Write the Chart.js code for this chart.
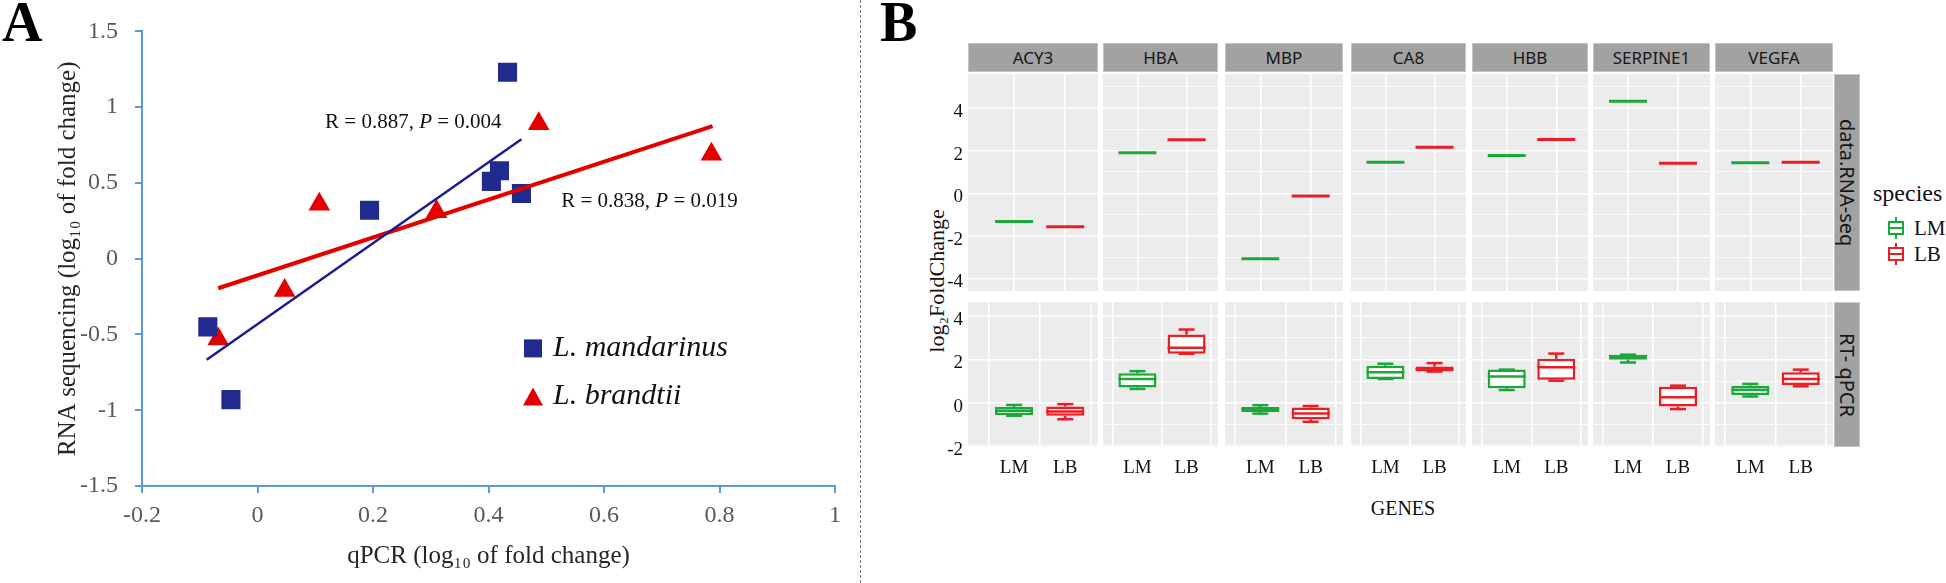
<!DOCTYPE html>
<html>
<head>
<meta charset="utf-8">
<script src="https://cdn.jsdelivr.net/npm/chart.js@4.4.1/dist/chart.umd.min.js"></script>
<style>
body { margin: 0; width: 1946px; height: 583px; position: relative; overflow: hidden; background: #fff;
       font-family: 'Liberation Serif', 'Times New Roman', serif; }
canvas { position: absolute; }
.big { position: absolute; font-weight: bold; font-size: 56px; line-height: 56px; color: #000; }
.strip { position: absolute; box-sizing: border-box; background: #a2a2a2; border: 1px solid #c4c4c4;
         font-family: 'Noto Sans', sans-serif; font-size: 17px; color: #161616;
         display: flex; align-items: center; justify-content: center; }
.vstrip { writing-mode: vertical-rl; font-size: 20px; }
.txt { position: absolute; color: #111; white-space: nowrap; }
</style>
</head>
<body>
<div class="big" style="left:2px;top:-6px">A</div>
<div class="big" style="left:880px;top:-6px">B</div>
<div style="position:absolute;left:860px;top:0;height:583px;border-left:1.5px dashed #777"></div>
<canvas id="chartA" width="860" height="583" style="left:0;top:0"></canvas>

<div class="txt" style="left:787px;top:268px;width:300px;text-align:center;font-size:22px;line-height:26px;transform:rotate(-90deg)">log₂FoldChange</div>
<div class="txt" style="left:1303px;top:496px;width:200px;text-align:center;font-size:20px;line-height:24px">GENES</div>
<div class="txt" style="left:1873px;top:179px;font-size:24px;line-height:28px">species</div>
<svg style="position:absolute;left:1886px;top:217px" width="20" height="22">
  <path d="M10 0V5M10 17V22M3 5H17V17H3ZM3 11H17" fill="#fff" stroke="#1aa83a" stroke-width="2"/>
</svg>
<svg style="position:absolute;left:1886px;top:243px" width="20" height="22">
  <path d="M10 0V5M10 17V22M3 5H17V17H3ZM3 11H17" fill="#fff" stroke="#ec1c24" stroke-width="2"/>
</svg>
<div class="txt" style="left:1914px;top:216px;font-size:21px;line-height:24px">LM</div>
<div class="txt" style="left:1914px;top:242px;font-size:21px;line-height:24px">LB</div>

<script>
// ---- panel A: qPCR vs RNA-seq ----
const xTicksA = [-0.2, 0, 0.2, 0.4, 0.6, 0.8, 1];
const yTicksA = [-1.5, -1, -0.5, 0, 0.5, 1, 1.5];
const mandarinusX = [-0.086, -0.046, 0.194, 0.405, 0.419, 0.433, 0.457];
const mandarinusY = [-0.45, -0.93, 0.32, 0.51, 0.58, 1.23, 0.43];
const brandtiiX = [-0.068, 0.047, 0.107, 0.31, 0.487, 0.786];
const brandtiiY = [-0.53, -0.21, 0.36, 0.31, 0.89, 0.69];
const fitMandarinusX = [-0.088, 0.457];
const fitMandarinusY = [-0.667, 0.788];
const fitBrandtiiX = [-0.068, 0.788];
const fitBrandtiiY = [-0.195, 0.875];
const corrR = ['0.887', '0.838'];
const corrP = ['0.004', '0.019'];

// ---- panel B: log2 fold change per gene ----
const genes = ['ACY3', 'HBA', 'MBP', 'CA8', 'HBB', 'SERPINE1', 'VEGFA'];
const species = ['LM', 'LB'];
const rowNames = ['data.RNA-seq', 'RT- qPCR'];
const rnaSeqLM = [-1.33, 1.90, -3.07, 1.46, 1.77, 4.32, 1.43];
const rnaSeqLB = [-1.57, 2.51, -0.13, 2.16, 2.53, 1.41, 1.46];
// [min, q1, median, q3, max]
const qpcrLM = [
    [-0.60, -0.56, -0.37, -0.19, -0.10],
    [0.64, 0.71, 1.10, 1.36, 1.46],
    [-0.50, -0.42, -0.29, -0.19, -0.11],
    [1.10, 1.10, 1.41, 1.71, 1.80],
    [0.59, 0.67, 1.21, 1.53, 1.53],
    [1.86, 1.99, 2.10, 2.22, 2.22],
    [0.29, 0.36, 0.60, 0.79, 0.87]
];
const qpcrLB = [
    [-0.76, -0.60, -0.40, -0.17, -0.06],
    [2.26, 2.26, 2.54, 3.15, 3.38],
    [-0.88, -0.76, -0.50, -0.22, -0.15],
    [1.44, 1.44, 1.55, 1.67, 1.83],
    [1.02, 1.06, 1.64, 2.03, 2.27],
    [-0.29, -0.17, 0.25, 0.74, 0.79],
    [0.76, 0.82, 1.10, 1.41, 1.53]
];
const yTicksB = [-4, -2, 0, 2, 4];

Chart.defaults.font.family = "'Liberation Serif', 'Times New Roman', serif";
Chart.defaults.color = '#222';

const pts = (xs, ys) => xs.map((x, i) => ({x: x, y: ys[i]}));
const fmt = v => String(Math.round(v * 10) / 10);

const axisBlue = '#5b9bd5';
const blue = '#212a8e';
const red = '#e50000';

const statText = {
    id: 'statText',
    afterDatasetsDraw(chart) {
        const {ctx, scales} = chart;
        const spots = [[0.117, 0.9], [0.526, 0.38]];
        ctx.save();
        ctx.fillStyle = '#111';
        ctx.textBaseline = 'middle';
        spots.forEach((s, i) => {
            let x = scales.x.getPixelForValue(s[0]);
            const y = scales.y.getPixelForValue(s[1]);
            const parts = [['R = ' + corrR[i] + ', ', ''], ['P', 'italic '], [' = ' + corrP[i], '']];
            parts.forEach(p => {
                ctx.font = p[1] + "21px 'Liberation Serif', serif";
                ctx.fillText(p[0], x, y);
                x += ctx.measureText(p[0]).width;
            });
        });
        ctx.restore();
    }
};

const legendA = {
    id: 'legendA',
    afterDraw(chart) {
        const {ctx, chartArea} = chart;
        const x = chartArea.left + 391, y = chartArea.top + 317;
        ctx.save();
        ctx.fillStyle = blue;
        ctx.fillRect(x - 9, y - 9, 18, 18);
        ctx.fillStyle = red;
        ctx.beginPath();
        ctx.moveTo(x, y + 39);
        ctx.lineTo(x + 10, y + 57);
        ctx.lineTo(x - 10, y + 57);
        ctx.closePath();
        ctx.fill();
        ctx.fillStyle = '#111';
        ctx.font = "italic 30px 'Liberation Serif', serif";
        ctx.textBaseline = 'alphabetic';
        ctx.fillText(chart.data.datasets[2].label, x + 20, y + 8);
        ctx.fillText(chart.data.datasets[3].label, x + 20, y + 56);
        ctx.restore();
    }
};

new Chart(document.getElementById('chartA'), {
    type: 'scatter',
    data: {
        datasets: [
            {type: 'line', label: 'fit mandarinus', data: pts(fitMandarinusX, fitMandarinusY),
             borderColor: '#1c1c8c', borderWidth: 2.5, pointRadius: 0, order: 0},
            {type: 'line', label: 'fit brandtii', data: pts(fitBrandtiiX, fitBrandtiiY),
             borderColor: red, borderWidth: 4, pointRadius: 0, order: 0},
            {label: 'L. mandarinus', data: pts(mandarinusX, mandarinusY), pointStyle: 'rect',
             pointRadius: 13.5, pointBackgroundColor: blue, pointBorderColor: blue, pointBorderWidth: 0, order: 1},
            {label: 'L. brandtii', data: pts(brandtiiX, brandtiiY), pointStyle: 'triangle',
             pointRadius: 12.5, pointBackgroundColor: red, pointBorderColor: red, pointBorderWidth: 0, order: 1}
        ]
    },
    options: {
        responsive: false,
        animation: false,
        events: [],
        layout: {autoPadding: false, padding: {left: 0, top: 23, right: 25, bottom: 0}},
        plugins: {legend: {display: false}, tooltip: {enabled: false}},
        scales: {
            x: {
                type: 'linear', min: -0.2, max: 1,
                afterBuildTicks: s => { s.ticks = xTicksA.map(v => ({value: v})); },
                afterFit: s => { s.height = 97; },
                grid: {drawOnChartArea: false, drawTicks: true, tickLength: 7, color: axisBlue, lineWidth: 2},
                border: {color: axisBlue, width: 2},
                ticks: {color: '#595959', font: {size: 24}, padding: 8, maxRotation: 0, autoSkip: false, callback: fmt},
                title: {display: true, text: 'qPCR (log₁₀ of fold change)', color: '#262626',
                        font: {size: 25}, padding: {top: 0, bottom: 12}}
            },
            y: {
                type: 'linear', min: -1.5, max: 1.5,
                afterBuildTicks: s => { s.ticks = yTicksA.map(v => ({value: v})); },
                afterFit: s => { s.width = 142; },
                grid: {drawOnChartArea: false, drawTicks: true, tickLength: 7, color: axisBlue, lineWidth: 2},
                border: {color: axisBlue, width: 2},
                ticks: {color: '#595959', font: {size: 24}, padding: 17, callback: fmt},
                title: {display: true, text: 'RNA sequencing (log₁₀ of fold change)', color: '#262626',
                        font: {size: 25}, padding: {top: 53, bottom: 0}}
            }
        }
    },
    plugins: [statText, legendA]
});

// ---- panel B facets ----
const colorsB = ['#1aa83a', '#ec1c24'];
const panelLeft = [968, 1103, 1225, 1351, 1472, 1593, 1715];
const panelRight = [1098, 1218, 1343, 1466, 1588, 1710, 1833];
const panelXMin = [0.1, 0.3, 0.3, 0.3, 0.3, 0.3, 0.3];
const rowTop = [74, 302];
const rowBottom = [291, 447];
const rowMin = [-4.59, -2.04];
const rowMax = [5.6, 4.65];
const yAxisW = 38;
const xAxisH = 40;

const panelBg = {
    id: 'panelBg',
    beforeDraw(chart) {
        const {ctx, chartArea: a} = chart;
        ctx.save();
        ctx.fillStyle = '#ececec';
        ctx.fillRect(a.left, a.top, a.right - a.left, a.bottom - a.top);
        ctx.restore();
    }
};

function rnaDatasets(g) {
    return [rnaSeqLM, rnaSeqLB].map((arr, s) => ({
        label: species[s], data: [{x: s + 1, y: arr[g]}], pointStyle: 'line',
        pointRadius: 19, pointBorderWidth: 3, pointBorderColor: colorsB[s]
    }));
}

function qpcrDatasets(g) {
    const out = [];
    [qpcrLM, qpcrLB].forEach((arr, s) => {
        const [mn, q1, md, q3, mx] = arr[g];
        const x = s + 1, c = colorsB[s];
        out.push({type: 'bar', label: species[s] + ' box', data: [{x: x, y: [q1, q3]}],
                  barThickness: 38, grouped: false, borderSkipped: false, inflateAmount: 0,
                  borderWidth: 2.5, borderColor: c, backgroundColor: '#fff', order: 3});
        out.push({type: 'bar', label: species[s] + ' whisker', data: [{x: x, y: [q3, mx]}, {x: x, y: [mn, q1]}],
                  barThickness: 2.5, grouped: false, inflateAmount: 0, borderWidth: 0,
                  backgroundColor: c, order: 2});
        out.push({label: species[s] + ' median', data: [{x: x, y: md}], pointStyle: 'line',
                  pointRadius: 19, pointBorderWidth: 2.5, pointBorderColor: c, order: 1});
        out.push({label: species[s] + ' caps', data: [{x: x, y: mn}, {x: x, y: mx}], pointStyle: 'line',
                  pointRadius: 8, pointBorderWidth: 2.5, pointBorderColor: c, order: 1});
    });
    return out;
}

[0, 1].forEach(r => {
    genes.forEach((gname, g) => {
        const left = panelLeft[g] - (g === 0 ? yAxisW : 0);
        const w = panelRight[g] - left;
        const h = rowBottom[r] - rowTop[r] + (r === 1 ? xAxisH : 0);
        const cv = document.createElement('canvas');
        cv.width = w; cv.height = h;
        cv.style.left = left + 'px'; cv.style.top = rowTop[r] + 'px';
        document.body.appendChild(cv);

        const gridVals = [];
        for (let v = Math.ceil(rowMin[r]); v <= Math.floor(rowMax[r]); v++) gridVals.push(v);

        new Chart(cv, {
            type: 'scatter',
            data: {datasets: r === 0 ? rnaDatasets(g) : qpcrDatasets(g)},
            options: {
                responsive: false,
                animation: false,
                events: [],
                layout: {autoPadding: false, padding: 0},
                plugins: {legend: {display: false}, tooltip: {enabled: false}},
                scales: {
                    x: {
                        type: 'linear', min: panelXMin[g], max: 2.64, offset: false,
                        afterBuildTicks: s => { s.ticks = species.map((n, i) => ({value: i + 1})); },
                        afterFit: s => { s.height = r === 1 ? xAxisH : 0; s.paddingLeft = 0; s.paddingRight = 0; },
                        grid: {color: '#fff', lineWidth: 1.5, drawTicks: false},
                        border: {display: false},
                        ticks: {display: r === 1, padding: 10, color: '#111', font: {size: 19},
                                maxRotation: 0, autoSkip: false, callback: v => species[v - 1]}
                    },
                    y: {
                        type: 'linear', min: rowMin[r], max: rowMax[r],
                        afterBuildTicks: s => { s.ticks = gridVals.map(v => ({value: v})); },
                        afterFit: s => { s.width = g === 0 ? yAxisW : 0; s.paddingTop = 0; s.paddingBottom = 0; },
                        grid: {color: '#fff', drawTicks: false,
                               lineWidth: c => yTicksB.includes(c.tick.value) ? 1.5 : 0.8},
                        border: {display: false},
                        ticks: {display: g === 0, padding: 5, labelOffset: 4, color: '#111', font: {size: 19},
                                callback: v => yTicksB.includes(v) ? String(v) : ''}
                    }
                }
            },
            plugins: [panelBg]
        });
    });
});

genes.forEach((gname, g) => {
    const d = document.createElement('div');
    d.className = 'strip';
    d.style.left = panelLeft[g] + 'px';
    d.style.width = (panelRight[g] - panelLeft[g]) + 'px';
    d.style.top = '43px';
    d.style.height = '29px';
    d.textContent = gname;
    document.body.appendChild(d);
});
rowNames.forEach((rname, r) => {
    const d = document.createElement('div');
    d.className = 'strip vstrip';
    d.style.left = '1834px';
    d.style.width = '26px';
    d.style.top = rowTop[r] + 'px';
    d.style.height = (rowBottom[r] - rowTop[r]) + 'px';
    d.textContent = rname;
    document.body.appendChild(d);
});
</script>
</body>
</html>
